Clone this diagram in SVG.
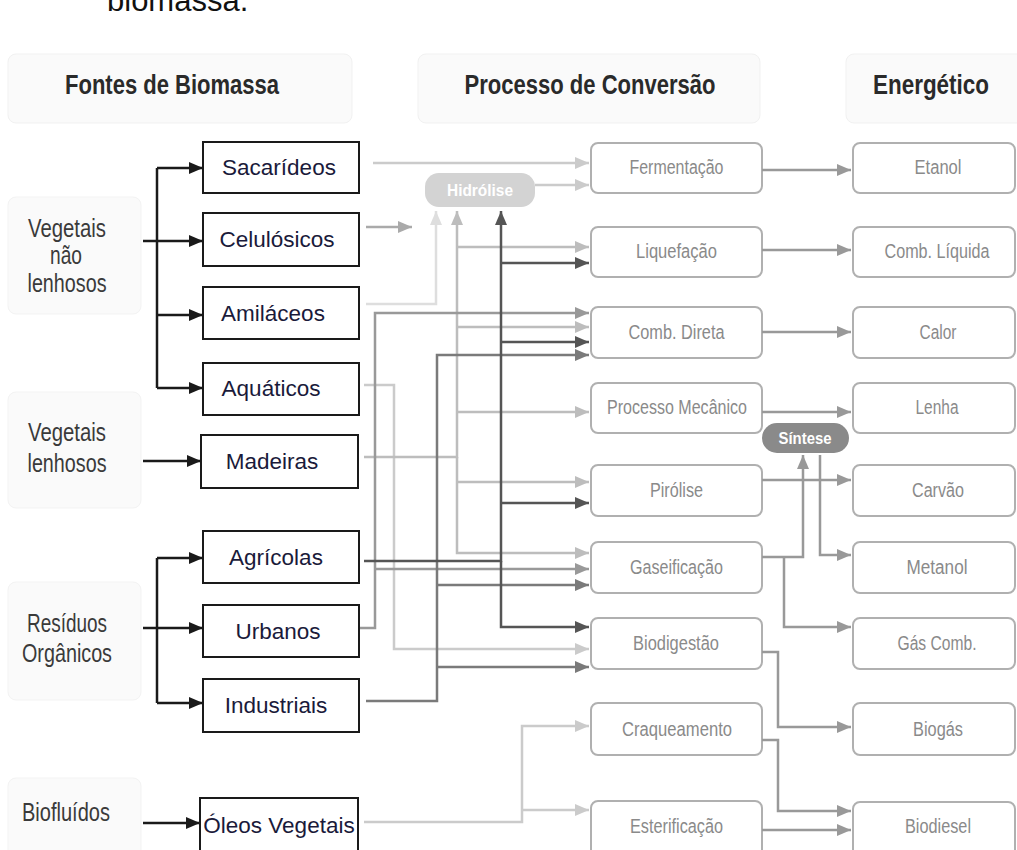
<svg xmlns="http://www.w3.org/2000/svg" width="1017" height="850" viewBox="0 0 1017 850">
<style>
.hdrbox{fill:#fafafa;stroke:#f1f1f1;stroke-width:1}
.hdr{font-family:"Liberation Sans",Arial,sans-serif;font-weight:bold;font-size:27px;fill:#2a2a2a;text-anchor:middle}
.grp{fill:#fafafa;stroke:#f3f3f3;stroke-width:1}
.grpt{font-family:"Liberation Sans",Arial,sans-serif;font-size:25px;fill:#3a3a3a;text-anchor:middle}
.src{fill:#fff;stroke:#1a1a1a;stroke-width:2}
.srct{font-family:"Liberation Sans",Arial,sans-serif;font-size:22.5px;fill:#1a1a3a;text-anchor:middle}
.proc{fill:#fff;stroke:#b0b0b0;stroke-width:2}
.proct{font-family:"Liberation Sans",Arial,sans-serif;font-size:20px;fill:#8a8a8a;text-anchor:middle}
.pill{font-family:"Liberation Sans",Arial,sans-serif;font-weight:bold;font-size:17px;fill:#fff;text-anchor:middle}
.c{fill:none;stroke-width:2.5}
.k{stroke:#1a1a1a}
.d{stroke:#555}
.m{stroke:#7a7a7a}
.g{stroke:#999}
.a{stroke:#aaa}
.l{stroke:#bdbdbd}
.lc{stroke:#cbcbcb}
.f{stroke:#dedede}
</style>
<defs>
<marker id="ak" markerUnits="userSpaceOnUse" markerWidth="14" markerHeight="12" refX="14" refY="6" orient="auto"><path d="M0,0 L14,6 L0,12 z" fill="#1a1a1a"/></marker>
<marker id="ad" markerUnits="userSpaceOnUse" markerWidth="14" markerHeight="12" refX="14" refY="6" orient="auto"><path d="M0,0 L14,6 L0,12 z" fill="#555"/></marker>
<marker id="am" markerUnits="userSpaceOnUse" markerWidth="14" markerHeight="12" refX="14" refY="6" orient="auto"><path d="M0,0 L14,6 L0,12 z" fill="#7a7a7a"/></marker>
<marker id="ag" markerUnits="userSpaceOnUse" markerWidth="14" markerHeight="12" refX="14" refY="6" orient="auto"><path d="M0,0 L14,6 L0,12 z" fill="#999"/></marker>
<marker id="aa" markerUnits="userSpaceOnUse" markerWidth="14" markerHeight="12" refX="14" refY="6" orient="auto"><path d="M0,0 L14,6 L0,12 z" fill="#aaa"/></marker>
<marker id="al" markerUnits="userSpaceOnUse" markerWidth="14" markerHeight="12" refX="14" refY="6" orient="auto"><path d="M0,0 L14,6 L0,12 z" fill="#bdbdbd"/></marker>
<marker id="alc" markerUnits="userSpaceOnUse" markerWidth="14" markerHeight="12" refX="14" refY="6" orient="auto"><path d="M0,0 L14,6 L0,12 z" fill="#cbcbcb"/></marker>
<marker id="af" markerUnits="userSpaceOnUse" markerWidth="14" markerHeight="12" refX="14" refY="6" orient="auto"><path d="M0,0 L14,6 L0,12 z" fill="#dedede"/></marker>
</defs>
<rect width="1017" height="850" fill="#fff"/>
<text x="107" y="11" font-family="'Liberation Sans',Arial,sans-serif" font-size="31" fill="#111">biomassa.</text>

<g id="headers">
<rect class="hdrbox" x="8" y="54" width="344" height="69" rx="8"/>
<text class="hdr" x="172" y="94" textLength="214" lengthAdjust="spacingAndGlyphs">Fontes de Biomassa</text>
<rect class="hdrbox" x="418" y="54" width="342" height="69" rx="8"/>
<text class="hdr" x="590" y="94" textLength="251" lengthAdjust="spacingAndGlyphs">Processo de Conversão</text>
<rect class="hdrbox" x="846" y="54" width="180" height="69" rx="8"/>
<text class="hdr" x="931" y="94" textLength="116" lengthAdjust="spacingAndGlyphs">Energético</text>
</g>

<g id="grp-vnl"><rect class="grp" x="8" y="197" width="133" height="117" rx="8"/>
<text class="grpt" x="67" y="237" textLength="78" lengthAdjust="spacingAndGlyphs">Vegetais</text>
<text class="grpt" x="66" y="264" textLength="32" lengthAdjust="spacingAndGlyphs">não</text>
<text class="grpt" x="67" y="292" textLength="79" lengthAdjust="spacingAndGlyphs">lenhosos</text></g>
<g id="grp-vl"><rect class="grp" x="8" y="392" width="133" height="116" rx="8"/>
<text class="grpt" x="67" y="441" textLength="78" lengthAdjust="spacingAndGlyphs">Vegetais</text>
<text class="grpt" x="67" y="472" textLength="79" lengthAdjust="spacingAndGlyphs">lenhosos</text></g>
<g id="grp-ro"><rect class="grp" x="8" y="582" width="133" height="118" rx="8"/>
<text class="grpt" x="67" y="632" textLength="80" lengthAdjust="spacingAndGlyphs">Resíduos</text>
<text class="grpt" x="67" y="662" textLength="90" lengthAdjust="spacingAndGlyphs">Orgânicos</text></g>
<g id="grp-bf"><rect class="grp" x="8" y="778" width="133" height="90" rx="8"/>
<text class="grpt" x="66" y="821" textLength="88" lengthAdjust="spacingAndGlyphs">Biofluídos</text></g>

<g id="src-sacarideos"><rect class="src" x="203" y="142" width="156" height="51"/><text class="srct" x="279" y="175">Sacarídeos</text></g>
<g id="src-celulosicos"><rect class="src" x="203" y="213" width="156" height="53"/><text class="srct" x="277" y="247">Celulósicos</text></g>
<g id="src-amilaceos"><rect class="src" x="203" y="287" width="156" height="52"/><text class="srct" x="273" y="321">Amiláceos</text></g>
<g id="src-aquaticos"><rect class="src" x="203" y="363" width="156" height="52"/><text class="srct" x="271" y="396">Aquáticos</text></g>
<g id="src-madeiras"><rect class="src" x="201" y="435" width="157" height="53"/><text class="srct" x="272" y="469">Madeiras</text></g>
<g id="src-agricolas"><rect class="src" x="203" y="531" width="156" height="52"/><text class="srct" x="276" y="565">Agrícolas</text></g>
<g id="src-urbanos"><rect class="src" x="203" y="605" width="156" height="52"/><text class="srct" x="278" y="639">Urbanos</text></g>
<g id="src-industriais"><rect class="src" x="203" y="679" width="156" height="53"/><text class="srct" x="276" y="713">Industriais</text></g>
<g id="src-oleos"><rect class="src" x="200" y="798" width="158" height="60"/><text class="srct" x="279" y="833">Óleos Vegetais</text></g>

<g id="pill-hidrolise"><rect x="425" y="173" width="110" height="34" rx="14" fill="#d3d3d3"/><text class="pill" x="480" y="196" textLength="66" lengthAdjust="spacingAndGlyphs">Hidrólise</text></g>
<g id="pill-sintese"><rect x="762" y="423" width="87" height="30" rx="15" fill="#8a8a8a"/><text class="pill" x="805" y="444" textLength="53" lengthAdjust="spacingAndGlyphs">Síntese</text></g>

<g id="proc-fermentacao"><rect class="proc" x="591" y="143" width="171" height="50" rx="7"/><text class="proct" x="676.5" y="174" textLength="94" lengthAdjust="spacingAndGlyphs">Fermentação</text></g>
<g id="proc-liquefacao"><rect class="proc" x="591" y="227" width="171" height="50" rx="7"/><text class="proct" x="676.5" y="258" textLength="81" lengthAdjust="spacingAndGlyphs">Liquefação</text></g>
<g id="proc-combdireta"><rect class="proc" x="591" y="307" width="171" height="51" rx="7"/><text class="proct" x="676.5" y="339" textLength="96" lengthAdjust="spacingAndGlyphs">Comb. Direta</text></g>
<g id="proc-mecanico"><rect class="proc" x="591" y="383" width="171" height="50" rx="7"/><text class="proct" x="677" y="414" textLength="140" lengthAdjust="spacingAndGlyphs">Processo Mecânico</text></g>
<g id="proc-pirolise"><rect class="proc" x="591" y="465" width="171" height="51" rx="7"/><text class="proct" x="676.5" y="497" textLength="53" lengthAdjust="spacingAndGlyphs">Pirólise</text></g>
<g id="proc-gaseificacao"><rect class="proc" x="591" y="542" width="171" height="51" rx="7"/><text class="proct" x="676.5" y="574" textLength="93" lengthAdjust="spacingAndGlyphs">Gaseificação</text></g>
<g id="proc-biodigestao"><rect class="proc" x="591" y="618" width="171" height="51" rx="7"/><text class="proct" x="676" y="650" textLength="86" lengthAdjust="spacingAndGlyphs">Biodigestão</text></g>
<g id="proc-craqueamento"><rect class="proc" x="591" y="703" width="171" height="52" rx="7"/><text class="proct" x="677" y="736" textLength="110" lengthAdjust="spacingAndGlyphs">Craqueamento</text></g>
<g id="proc-esterificacao"><rect class="proc" x="591" y="801" width="171" height="60" rx="7"/><text class="proct" x="676.5" y="833" textLength="93" lengthAdjust="spacingAndGlyphs">Esterificação</text></g>

<g id="out-etanol"><rect class="proc" x="853" y="143" width="162" height="50" rx="7"/><text class="proct" x="938" y="174" textLength="47" lengthAdjust="spacingAndGlyphs">Etanol</text></g>
<g id="out-combliquida"><rect class="proc" x="853" y="227" width="162" height="50" rx="7"/><text class="proct" x="937" y="258" textLength="105" lengthAdjust="spacingAndGlyphs">Comb. Líquida</text></g>
<g id="out-calor"><rect class="proc" x="853" y="307" width="162" height="51" rx="7"/><text class="proct" x="938" y="339" textLength="37" lengthAdjust="spacingAndGlyphs">Calor</text></g>
<g id="out-lenha"><rect class="proc" x="853" y="383" width="162" height="50" rx="7"/><text class="proct" x="937" y="414" textLength="43" lengthAdjust="spacingAndGlyphs">Lenha</text></g>
<g id="out-carvao"><rect class="proc" x="853" y="465" width="162" height="51" rx="7"/><text class="proct" x="938" y="497" textLength="52" lengthAdjust="spacingAndGlyphs">Carvão</text></g>
<g id="out-metanol"><rect class="proc" x="853" y="542" width="162" height="51" rx="7"/><text class="proct" x="937" y="574" textLength="61" lengthAdjust="spacingAndGlyphs">Metanol</text></g>
<g id="out-gascomb"><rect class="proc" x="853" y="618" width="162" height="51" rx="7"/><text class="proct" x="937" y="650" textLength="79" lengthAdjust="spacingAndGlyphs">Gás Comb.</text></g>
<g id="out-biogas"><rect class="proc" x="853" y="703" width="162" height="52" rx="7"/><text class="proct" x="938" y="736" textLength="50" lengthAdjust="spacingAndGlyphs">Biogás</text></g>
<g id="out-biodiesel"><rect class="proc" x="853" y="802" width="162" height="60" rx="7"/><text class="proct" x="938" y="833" textLength="66" lengthAdjust="spacingAndGlyphs">Biodiesel</text></g>

<g id="connectors">
<!-- source group brackets -->
<path class="c k" d="M157,168 V388"/>
<path class="c k" d="M143,241 H157"/>
<path class="c k" d="M157,168 H203" marker-end="url(#ak)"/>
<path class="c k" d="M157,241 H203" marker-end="url(#ak)"/>
<path class="c k" d="M157,315 H203" marker-end="url(#ak)"/>
<path class="c k" d="M157,388 H203" marker-end="url(#ak)"/>
<path class="c k" d="M143,461 H201" marker-end="url(#ak)"/>
<path class="c k" d="M157,558 V703"/>
<path class="c k" d="M143,628 H157"/>
<path class="c k" d="M157,558 H203" marker-end="url(#ak)"/>
<path class="c k" d="M157,628 H203" marker-end="url(#ak)"/>
<path class="c k" d="M157,703 H203" marker-end="url(#ak)"/>
<path class="c k" d="M143,823 H200" marker-end="url(#ak)"/>

<!-- sources to processes -->
<path class="c lc" d="M373,163 H589" marker-end="url(#alc)"/>
<path class="c lc" d="M535,185 H589" marker-end="url(#alc)"/>
<path class="c a" d="M366,227 H412" marker-end="url(#aa)"/>
<path class="c f" d="M366,304 H436 V211" marker-end="url(#af)"/>
<path class="c lc" d="M364,385 H394 V649 H589" marker-end="url(#alc)"/>

<path class="c l" d="M364,457 H457 V211" marker-end="url(#al)"/>
<path class="c l" d="M457,247 H589" marker-end="url(#al)"/>
<path class="c l" d="M457,327 H589" marker-end="url(#al)"/>
<path class="c l" d="M457,412 H589" marker-end="url(#al)"/>
<path class="c l" d="M457,482 H589" marker-end="url(#al)"/>
<path class="c l" d="M457,457 V553 H589" marker-end="url(#al)"/>

<path class="c g" d="M360,628 H375 V313 H589" marker-end="url(#ag)"/>
<path class="c g" d="M375,569 H589" marker-end="url(#ag)"/>

<path class="c m" d="M366,701 H437 V355 H589" marker-end="url(#am)"/>
<path class="c m" d="M437,585 H589" marker-end="url(#am)"/>
<path class="c m" d="M437,667 H589" marker-end="url(#am)"/>

<path class="c d" d="M364,561 H501 V211" marker-end="url(#ad)"/>
<path class="c d" d="M501,263 H589" marker-end="url(#ad)"/>
<path class="c d" d="M501,342 H589" marker-end="url(#ad)"/>
<path class="c d" d="M501,503 H589" marker-end="url(#ad)"/>
<path class="c d" d="M501,561 V627 H589" marker-end="url(#ad)"/>

<path class="c lc" d="M364,822 H522 V726 H589" marker-end="url(#alc)"/>
<path class="c lc" d="M522,810 H589" marker-end="url(#alc)"/>

<!-- processes to energy -->
<path class="c g" d="M762,170 H851" marker-end="url(#ag)"/>
<path class="c g" d="M762,250 H851" marker-end="url(#ag)"/>
<path class="c g" d="M762,332 H851" marker-end="url(#ag)"/>
<path class="c g" d="M762,412 H851" marker-end="url(#ag)"/>
<path class="c g" d="M762,480 H851" marker-end="url(#ag)"/>
<path class="c g" d="M762,557 H803 V455" marker-end="url(#ag)"/>
<path class="c g" d="M784,557 V627 H851" marker-end="url(#ag)"/>
<path class="c g" d="M820,455 V555 H851" marker-end="url(#ag)"/>
<path class="c g" d="M762,652 H778 V727 H851" marker-end="url(#ag)"/>
<path class="c g" d="M762,740 H778 V811 H851" marker-end="url(#ag)"/>
<path class="c g" d="M762,830 H851" marker-end="url(#ag)"/>
</g>
</svg>
